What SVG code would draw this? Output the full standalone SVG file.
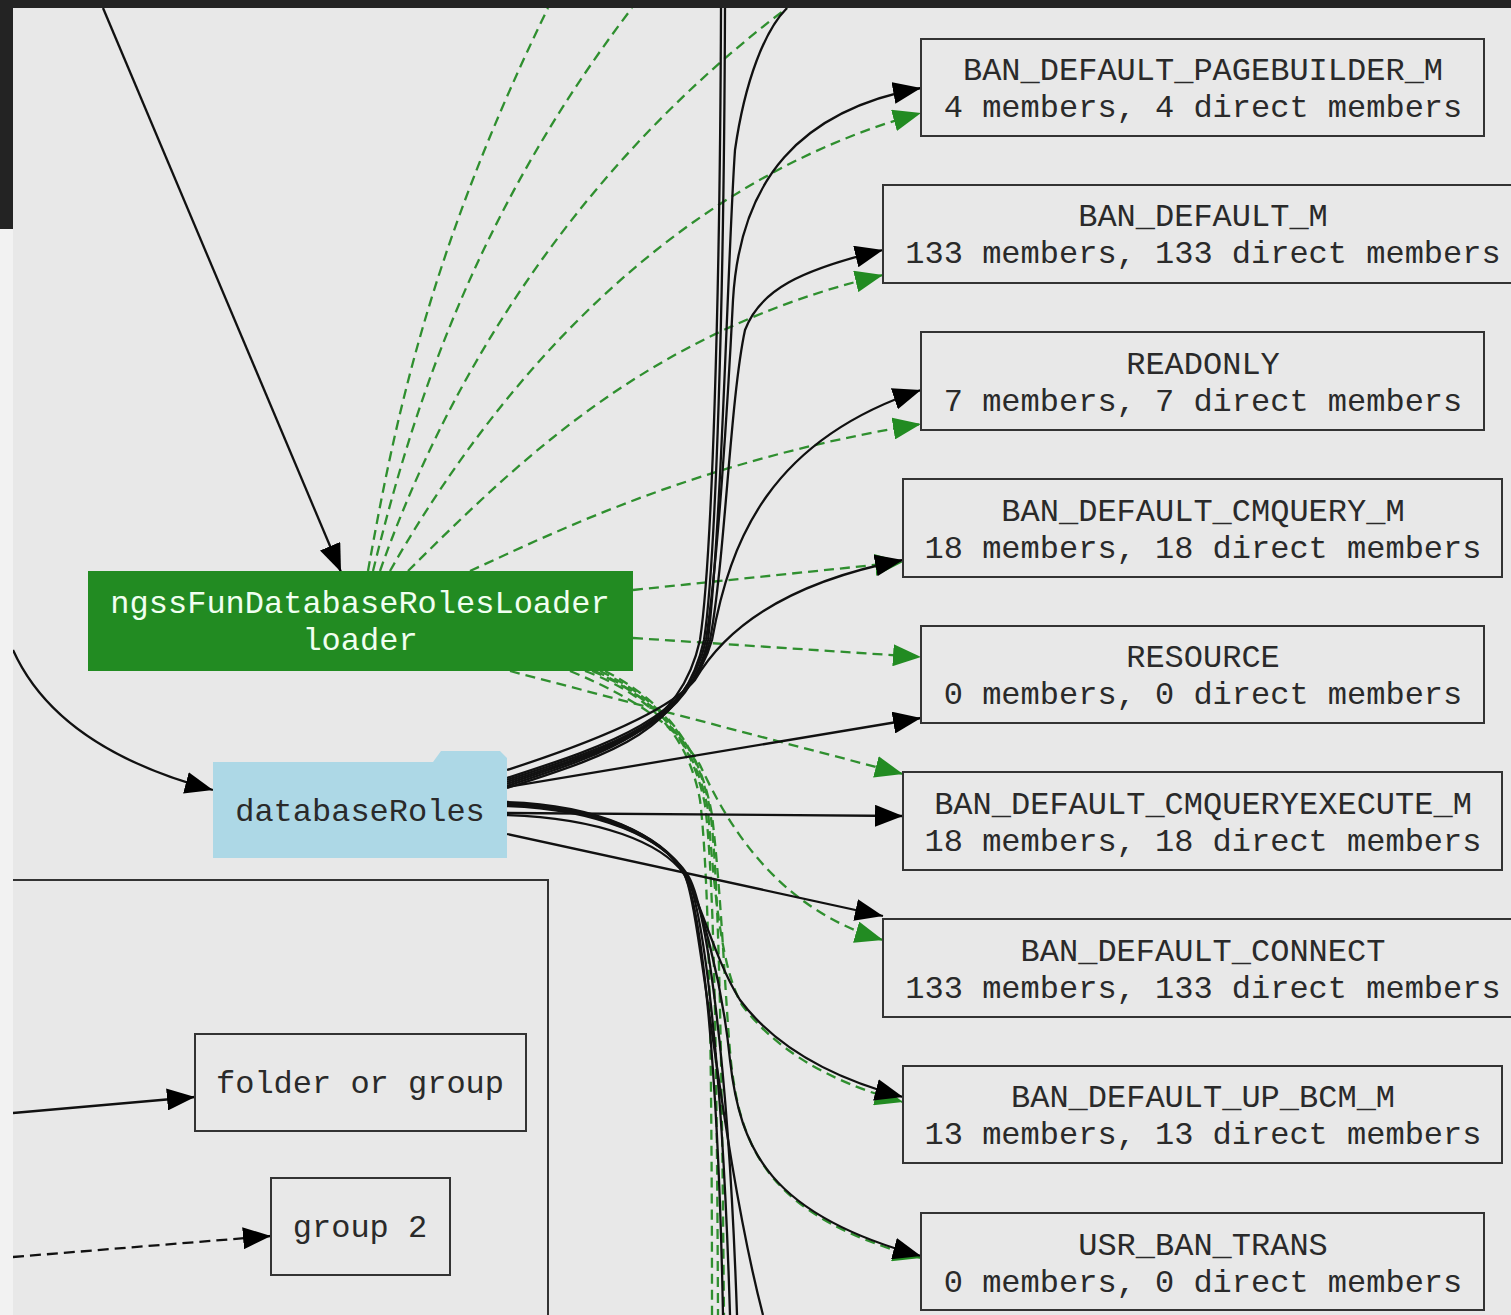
<svg xmlns="http://www.w3.org/2000/svg" width="1511" height="1315" viewBox="0 0 1511 1315">
<style>
.bg{fill:#e8e8e8}
.box{fill:#e8e8e8;stroke:#333;stroke-width:2}
.t{font-family:"Liberation Mono","Courier New",monospace;font-size:32px;fill:#2a2a2a;text-anchor:middle}
.tw{font-family:"Liberation Mono","Courier New",monospace;font-size:32px;fill:#f0fff0;text-anchor:middle}
.e{fill:none;stroke:#111;stroke-width:2.3}
.g{fill:none;stroke:#2f8f2f;stroke-width:2.3;stroke-dasharray:10,6}
.ed{fill:none;stroke:#111;stroke-width:2.3;stroke-dasharray:11,6}
</style>
<defs>
<marker id="ab" markerUnits="userSpaceOnUse" markerWidth="30" markerHeight="22" refX="28" refY="11" orient="auto"><path d="M0,0 L28,11 L0,22 z" fill="#000"/></marker>
<marker id="ag" markerUnits="userSpaceOnUse" markerWidth="30" markerHeight="22" refX="28" refY="11" orient="auto"><path d="M0,0 L28,11 L0,22 z" fill="#228b22"/></marker>
</defs>
<rect class="bg" x="0" y="0" width="1511" height="1315"/>

<g id="cluster">
<path d="M13,880 L548,880 L548,1320" fill="none" stroke="#333" stroke-width="2"/>
</g>

<g id="connectors">
<!-- green dashed from loader, upward -->
<path class="g" d="M368,571 C395,420 430,250 548,8"/>
<path class="g" d="M373,571 C410,420 470,220 632,8"/>
<path class="g" d="M380,571 C440,400 560,180 787,8"/>
<path class="g" d="M390,571 C470,430 640,190 921,113" marker-end="url(#ag)"/>
<path class="g" d="M408,571 C520,460 650,330 883,275" marker-end="url(#ag)"/>
<path class="g" d="M470,571 C560,530 700,460 921,424" marker-end="url(#ag)"/>
<path class="g" d="M633,590 L903,562" marker-end="url(#ag)"/>
<path class="g" d="M633,638 L921,657" marker-end="url(#ag)"/>
<path class="g" d="M510,671 L903,774" marker-end="url(#ag)"/>
<path class="g" d="M570,671 C640,700 680,730 700,765 C730,830 780,910 883,940" marker-end="url(#ag)"/>
<path class="g" d="M595,671 C655,698 695,740 708,810 C715,900 722,970 742,1005 C772,1045 822,1080 903,1102" marker-end="url(#ag)"/>
<path class="g" d="M605,671 C662,700 700,745 712,815 C722,900 725,1000 731,1062 C741,1152 771,1217 921,1258" marker-end="url(#ag)"/>
<path class="g" d="M585,671 C650,695 688,735 700,800 C710,880 712,1100 712,1315"/>
<path class="g" d="M592,671 C655,697 692,738 705,805 C715,880 717,1100 718,1315"/>
<path class="g" d="M600,671 C660,700 698,742 710,810 C720,880 722,1100 724,1315"/>

<!-- black edges from databaseRoles, upward -->
<path class="e" d="M507,786 C610,752 680,730 700,640 C712,560 720,300 721,8"/>
<path class="e" d="M507,788 C612,754 684,732 704,640 C716,560 724,300 725,8"/>
<path class="e" d="M507,784 C615,748 690,725 708,640 C722,520 728,250 735,150 C745,80 765,30 787,8"/>
<path class="e" d="M507,782 C612,748 688,724 706,640 C718,560 728,400 733,300 C740,180 800,110 921,88" marker-end="url(#ab)"/>
<path class="e" d="M507,780 C612,746 690,722 710,640 C725,560 730,400 745,330 C760,290 800,270 883,250" marker-end="url(#ab)"/>
<path class="e" d="M507,778 C612,744 690,718 712,640 C730,540 770,440 921,390" marker-end="url(#ab)"/>
<path class="e" d="M507,770 C600,740 670,710 695,680 C730,620 800,580 903,560" marker-end="url(#ab)"/>
<path class="e" d="M507,787 L921,718" marker-end="url(#ab)"/>
<path class="e" d="M507,813 L903,816" marker-end="url(#ab)"/>
<path class="e" d="M507,834 L883,916" marker-end="url(#ab)"/>
<!-- black edges downward -->
<path class="e" d="M507,802 C600,805 660,835 683,872 C700,900 718,1050 723,1315"/>
<path class="e" d="M507,804 C600,807 662,837 685,873 C702,900 722,1050 730,1315"/>
<path class="e" d="M507,806 C600,809 664,839 687,874 C705,900 728,1050 737,1315"/>
<path class="e" d="M507,815 C600,818 662,843 684,874 C700,900 720,1150 763,1315"/>
<path class="e" d="M507,803 C600,806 662,836 684,872 C700,900 715,960 740,1000 C770,1040 820,1075 903,1097" marker-end="url(#ab)"/>
<path class="e" d="M507,805 C600,808 662,838 685,873 C700,900 722,980 730,1060 C740,1150 770,1215 921,1256" marker-end="url(#ab)"/>

<!-- other edges -->
<path class="e" d="M103,8 L341,572" marker-end="url(#ab)"/>
<path class="e" d="M13,650 C40,710 100,760 213,790" marker-end="url(#ab)"/>
<path class="e" d="M13,1113 L195,1097" marker-end="url(#ab)"/>
<path class="ed" d="M13,1257 L271,1236" marker-end="url(#ab)"/>
</g>

<g id="loader">
<rect x="88" y="571" width="545" height="100" fill="#228b22"/>
<text class="tw" x="360" y="613">ngssFunDatabaseRolesLoader</text>
<text class="tw" x="360" y="650">loader</text>
</g>
<g id="databaseRoles">
<path d="M213,762 L433,762 L441,751 L500,751 L507,758 L507,858 L213,858 Z" fill="#add8e6"/>
<text class="t" x="360" y="821">databaseRoles</text>
</g>
<g id="folder_or_group">
<rect class="box" x="195" y="1034" width="331" height="97"/>
<text class="t" x="360" y="1093">folder or group</text>
</g>
<g id="group2">
<rect class="box" x="271" y="1178" width="179" height="97"/>
<text class="t" x="360" y="1237">group 2</text>
</g>

<g id="n_pagebuilder">
<rect class="box" x="921" y="39" width="563" height="97"/>
<text class="t" x="1203" y="80">BAN_DEFAULT_PAGEBUILDER_M</text>
<text class="t" x="1203" y="117">4 members, 4 direct members</text>
</g>
<g id="n_default_m">
<rect class="box" x="883" y="185" width="640" height="98"/>
<text class="t" x="1203" y="226">BAN_DEFAULT_M</text>
<text class="t" x="1203" y="263">133 members, 133 direct members</text>
</g>
<g id="n_readonly">
<rect class="box" x="921" y="332" width="563" height="98"/>
<text class="t" x="1203" y="374">READONLY</text>
<text class="t" x="1203" y="411">7 members, 7 direct members</text>
</g>
<g id="n_cmquery">
<rect class="box" x="903" y="479" width="599" height="98"/>
<text class="t" x="1203" y="521">BAN_DEFAULT_CMQUERY_M</text>
<text class="t" x="1203" y="558">18 members, 18 direct members</text>
</g>
<g id="n_resource">
<rect class="box" x="921" y="626" width="563" height="97"/>
<text class="t" x="1203" y="667">RESOURCE</text>
<text class="t" x="1203" y="704">0 members, 0 direct members</text>
</g>
<g id="n_cmqueryexecute">
<rect class="box" x="903" y="772" width="599" height="98"/>
<text class="t" x="1203" y="814">BAN_DEFAULT_CMQUERYEXECUTE_M</text>
<text class="t" x="1203" y="851">18 members, 18 direct members</text>
</g>
<g id="n_connect">
<rect class="box" x="883" y="919" width="640" height="98"/>
<text class="t" x="1203" y="961">BAN_DEFAULT_CONNECT</text>
<text class="t" x="1203" y="998">133 members, 133 direct members</text>
</g>
<g id="n_up_bcm">
<rect class="box" x="903" y="1066" width="599" height="97"/>
<text class="t" x="1203" y="1107">BAN_DEFAULT_UP_BCM_M</text>
<text class="t" x="1203" y="1144">13 members, 13 direct members</text>
</g>
<g id="n_usr_ban_trans">
<rect class="box" x="921" y="1213" width="563" height="97"/>
<text class="t" x="1203" y="1255">USR_BAN_TRANS</text>
<text class="t" x="1203" y="1292">0 members, 0 direct members</text>
</g>

<g id="frame">
<rect x="0" y="0" width="1511" height="8" fill="#232323"/>
<rect x="0" y="0" width="13" height="229" fill="#232323"/>
<rect x="0" y="229" width="13" height="1086" fill="#f2f2f2"/>
</g>
</svg>
